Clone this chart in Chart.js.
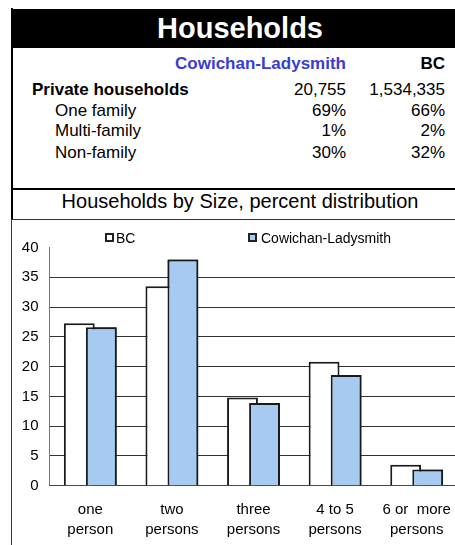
<!DOCTYPE html>
<html>
<head>
<meta charset="utf-8">
<script src="https://cdn.jsdelivr.net/npm/chart.js@4"></script>
<style>
  html, body { margin: 0; padding: 0; background: #fff; overflow: hidden; }
  body { width: 455px; height: 545px; position: relative; font-family: "Liberation Sans", Arial, sans-serif; color: #000; }
  .abs { position: absolute; line-height: 1; white-space: pre; }
  .r { text-align: right; }
  .b { font-weight: bold; }
  #frameTop { position: absolute; left: 11px; top: 8px; width: 460px; height: 211px; border-left: 2px solid #000; }
  #frameBottom { position: absolute; left: 11px; top: 219px; width: 460px; height: 330px; border-left: 1px solid #333; border-top: 1px solid #333; }
  #header { position: absolute; left: 11px; top: 9px; width: 458px; height: 39px; background: #000; }
  #rule { position: absolute; left: 11px; top: 188px; width: 460px; height: 2px; background: #000; }
  .swatch { position: absolute; width: 9px; height: 9px; box-sizing: border-box; border: 2px solid #222; }
  #chartBox { position: absolute; left: 12px; top: 220px; width: 456px; height: 325px; }
</style>
</head>
<body>
<div id="frameTop"></div>
<div id="header"></div>
<div class="abs b" style="left:12px;width:456px;top:13.5px;font-size:29px;color:#fff;text-align:center;">Households</div>

<div class="abs b r" style="left:146px;width:200px;top:55px;font-size:17px;color:#3b3bd6;">Cowichan-Ladysmith</div>
<div class="abs b r" style="left:395px;width:50px;top:55px;font-size:17px;">BC</div>

<div class="abs b" style="left:32px;top:80.6px;font-size:17px;">Private households</div>
<div class="abs r" style="left:246px;width:100px;top:80.6px;font-size:17px;">20,755</div>
<div class="abs r" style="left:345px;width:100px;top:80.6px;font-size:17px;">1,534,335</div>

<div class="abs" style="left:55px;top:102.3px;font-size:17px;">One family</div>
<div class="abs r" style="left:246px;width:100px;top:102.3px;font-size:17px;">69%</div>
<div class="abs r" style="left:345px;width:100px;top:102.3px;font-size:17px;">66%</div>

<div class="abs" style="left:55px;top:122.3px;font-size:17px;">Multi-family</div>
<div class="abs r" style="left:246px;width:100px;top:122.3px;font-size:17px;">1%</div>
<div class="abs r" style="left:345px;width:100px;top:122.3px;font-size:17px;">2%</div>

<div class="abs" style="left:55px;top:143.9px;font-size:17px;">Non-family</div>
<div class="abs r" style="left:246px;width:100px;top:143.9px;font-size:17px;">30%</div>
<div class="abs r" style="left:345px;width:100px;top:143.9px;font-size:17px;">32%</div>

<div id="rule"></div>
<div class="abs" style="left:12px;width:456px;top:191.4px;font-size:20px;text-align:center;">Households by Size, percent distribution</div>

<div id="frameBottom"></div>
<div id="chartBox"><canvas id="sizeChart" width="456" height="325"></canvas></div>

<div class="swatch" id="swBC" style="left:105px;top:233px;"></div>
<div class="abs" style="left:116px;top:230.5px;font-size:14px;">BC</div>
<div class="swatch" id="swCL" style="left:248px;top:233px;"></div>
<div class="abs" style="left:261px;top:230.5px;font-size:14px;">Cowichan-Ladysmith</div>

<script>
// Dados (percentual de domicílios por tamanho)
const sizeLabels = [
  ['one', 'person'],
  ['two', 'persons'],
  ['three', 'persons'],
  ['4 to 5', 'persons'],
  ['6 or  more', 'persons']
];
const bcValues = [27.3, 33.5, 14.8, 20.8, 3.5];
const cowichanValues = [26.6, 38.0, 13.9, 18.6, 2.7];
const yTicks = [0, 5, 10, 15, 20, 25, 30, 35, 40];

const BC_FILL = '#ffffff';
const CL_FILL = '#a6caf0';
const BAR_BORDER = '#1a1a1a';

document.getElementById('swBC').style.background = BC_FILL;
document.getElementById('swCL').style.background = CL_FILL;

// Barras se sobrepõem: a série Cowichan precisa ficar por cima
const cowichanOnTop = {
  id: 'cowichanOnTop',
  afterDatasetsDraw(chart) {
    const meta = chart.getDatasetMeta(1);
    if (meta && meta.visible) meta.controller.draw();
  }
};

const ctx = document.getElementById('sizeChart').getContext('2d');
const sizeChart = new Chart(ctx, {
  type: 'bar',
  data: {
    labels: sizeLabels,
    datasets: [
      {
        label: 'BC',
        data: bcValues,
        backgroundColor: BC_FILL,
        borderColor: BAR_BORDER,
        borderWidth: 2,
        borderSkipped: 'start'
      },
      {
        label: 'Cowichan-Ladysmith',
        data: cowichanValues,
        backgroundColor: CL_FILL,
        borderColor: BAR_BORDER,
        borderWidth: 2,
        borderSkipped: 'start'
      }
    ]
  },
  options: {
    responsive: false,
    devicePixelRatio: 1,
    animation: false,
    datasets: {
      bar: { categoryPercentage: 0.54, barPercentage: 1.4 }
    },
    layout: { padding: { left: 10, right: 10.5, top: 27.5, bottom: 7.3 } },
    scales: {
      y: {
        min: 0,
        max: 40,
        afterBuildTicks: (axis) => { axis.ticks = yTicks.map(v => ({ value: v })); },
        ticks: { color: '#000', padding: 11, font: { family: 'Liberation Sans', size: 15 } },
        grid: {
          drawTicks: false,
          color: (c) => (c.tick && (c.tick.value === 0 || c.tick.value === 40)) ? 'rgba(0,0,0,0)' : '#333',
          lineWidth: 1
        },
        border: { display: true, color: '#777', width: 1 },
        afterFit: (scale) => { scale.width = 27.5; }
      },
      x: {
        ticks: { color: '#000', padding: 14, font: { family: 'Liberation Sans', size: 15, lineHeight: 1.33 } },
        grid: { display: false, drawTicks: false },
        border: { display: true, color: '#444', width: 1 },
        // sem folga extra para os rótulos nas pontas, altura fixa do eixo
        afterFit: (scale) => {
          scale.paddingLeft = 0;
          scale.paddingRight = 0;
          scale.height = 52;
        }
      }
    },
    plugins: {
      legend: { display: false },
      tooltip: { enabled: false }
    }
  },
  plugins: [cowichanOnTop]
});
</script>
</body>
</html>
